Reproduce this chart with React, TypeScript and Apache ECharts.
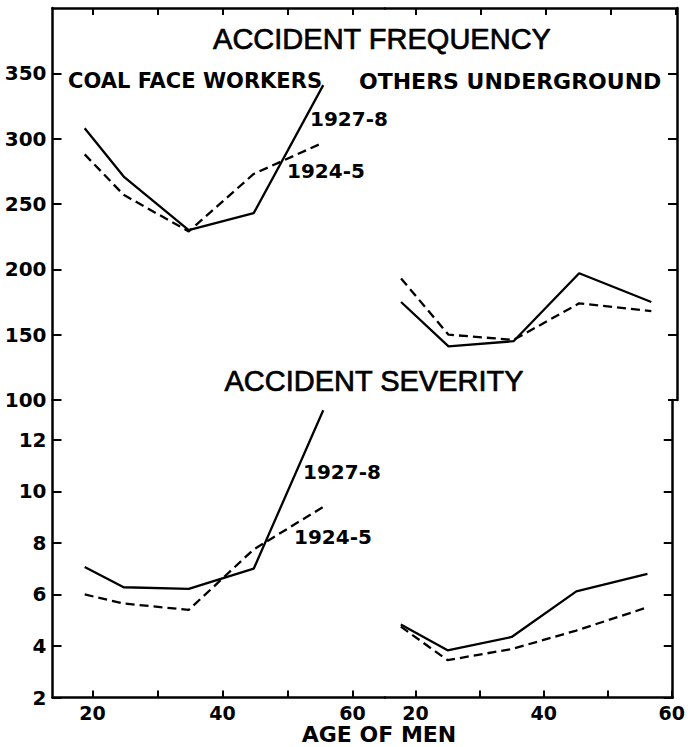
import React, { useEffect, useRef } from "react";
import * as echarts from "echarts";

// Ages (plotted mid-points of age groups)
const agesCoalFace = [18.8, 24.8, 34.8, 44.8, 55.5];
const agesOthers = [17.7, 25, 35, 45.1, 56.2];

// Accident frequency
const freqCoal1927 = [308, 271, 230, 243, 341];
const freqCoal1924 = [288, 257, 229, 273, 297];
const freqOthers1927 = [175, 141, 145, 197, 175];
const freqOthers1924 = [193, 150, 146, 174, 168];

// Accident severity
const sevCoal1927 = [7.07, 6.28, 6.22, 7.0, 13.15];
const sevCoal1924 = [6.0, 5.65, 5.4, 7.75, 9.4];
const sevOthers1927 = [4.83, 3.83, 4.35, 6.12, 6.8];
const sevOthers1924 = [4.75, 3.45, 3.88, 4.6, 5.5];

// Ticks
const freqTicks = [100, 150, 200, 250, 300, 350];
const sevTicks = [2, 4, 6, 8, 10, 12];
const ageTicks = [20, 30, 40, 50, 60];
const ageLabels = [20, 40, 60];

const pairs = (xs: number[], ys: number[]) => xs.map((x, i) => [x, ys[i]]);

export default function App() {
  const ref = useRef<HTMLDivElement>(null);
  useEffect(() => {
    if (!ref.current) return;
    const chart = echarts.init(ref.current, undefined, { renderer: "svg" });
    const L = 52.5, MID = 385, R = 677, TOP = 8, BRK = 400, BOT = 697.5;
    const black = "#000";
    const axisLine = { show: true, lineStyle: { color: black, width: 2.5 } };
    const tick = (vals: number[], len: number) => ({
      show: true,
      inside: true,
      length: len,
      customValues: vals,
      lineStyle: { color: black, width: 2 },
    });
    const labelFont = { fontFamily: "DejaVu Sans", fontWeight: "bold" as const, color: black };
    const xBase = (gi: number, pos: string, min: number, max: number, labels: boolean) => ({
      gridIndex: gi,
      type: "value",
      position: pos,
      min,
      max,
      axisLine,
      axisTick: tick(ageTicks, 7),
      axisLabel: labels
        ? { show: true, customValues: ageLabels, margin: 7, fontSize: 19, lineHeight: 16, ...labelFont }
        : { show: false },
      splitLine: { show: false },
    });
    const yBase = (gi: number, pos: string, min: number, max: number, ticks: number[], labels: boolean) => ({
      gridIndex: gi,
      type: "value",
      position: pos,
      min,
      max,
      axisLine,
      axisTick: tick(ticks, 9),
      axisLabel: labels
        ? { show: true, customValues: ticks, margin: 6, fontSize: 20, ...labelFont }
        : { show: false },
      splitLine: { show: false },
    });
    const solid = { color: black, width: 2.3, type: "solid" };
    const dashed = { color: black, width: 2.3, type: [9, 5] };
    const line = (xi: number, xs: number[], ys: number[], ls: any) => ({
      type: "line",
      xAxisIndex: xi,
      yAxisIndex: xi,
      data: pairs(xs, ys),
      symbol: "none",
      lineStyle: ls,
      silent: true,
    });
    const txt = (
      text: string, x: number, y: number, size: number, align: string,
      family: string, weight: string, strokeW = 0, lh?: number
    ) => ({
      type: "text",
      x,
      y,
      silent: true,
      style: {
        text,
        fill: black,
        fontSize: size,
        fontFamily: family,
        fontWeight: weight,
        align,
        verticalAlign: "middle",
        stroke: strokeW ? black : undefined,
        lineWidth: strokeW,
        lineHeight: lh,
      },
    });
    chart.setOption({
      animation: false,
      backgroundColor: "#fff",
      grid: [
        { left: L, top: TOP, width: MID - L, height: BRK - TOP },
        { left: MID, top: TOP, width: R - MID, height: BRK - TOP },
        { left: L, top: BRK, width: MID - L, height: BOT - BRK },
        { left: MID, top: BRK, width: R - MID, height: BOT - BRK },
      ],
      xAxis: [
        xBase(0, "top", 13.85, 65, false),
        xBase(1, "top", 15.23, 60.15, false),
        xBase(2, "bottom", 13.85, 65, true),
        xBase(3, "bottom", 15.23, 60.15, true),
      ],
      yAxis: [
        yBase(0, "left", 100, 400, freqTicks, true),
        yBase(1, "right", 100, 400, freqTicks, false),
        yBase(2, "left", 2, 13.55, sevTicks, true),
        yBase(3, "right", 2, 13.55, sevTicks, false),
      ],
      series: [
        line(0, agesCoalFace, freqCoal1927, solid),
        line(0, agesCoalFace, freqCoal1924, dashed),
        line(1, agesOthers, freqOthers1927, solid),
        line(1, agesOthers, freqOthers1924, dashed),
        line(2, agesCoalFace, sevCoal1927, solid),
        line(2, agesCoalFace, sevCoal1924, dashed),
        line(3, agesOthers, sevOthers1927, solid),
        line(3, agesOthers, sevOthers1924, dashed),
      ],
      graphic: [
        txt("ACCIDENT FREQUENCY", 382, 39, 29, "center", "Liberation Sans", "normal", 0.7),
        txt("COAL FACE WORKERS", 68, 81, 21, "left", "DejaVu Sans", "bold"),
        txt("OTHERS UNDERGROUND", 359, 81, 22, "left", "DejaVu Sans", "bold"),
        txt("1927-8", 310, 119, 20, "left", "DejaVu Sans", "bold"),
        txt("1924-5", 287, 171, 20, "left", "DejaVu Sans", "bold"),
        txt("ACCIDENT SEVERITY", 374, 381, 29, "center", "Liberation Sans", "normal", 0.7),
        txt("1927-8", 303, 472, 20, "left", "DejaVu Sans", "bold"),
        txt("1924-5", 294, 537, 20, "left", "DejaVu Sans", "bold"),
        txt("AGE OF MEN", 379, 734, 22, "center", "DejaVu Sans", "bold", 0, 18),
      ],
    });
    return () => chart.dispose();
  }, []);
  return (
    <div
      ref={ref}
      style={{ position: "absolute", left: 0, top: 0, width: 688, height: 747, background: "#fff" }}
    />
  );
}
